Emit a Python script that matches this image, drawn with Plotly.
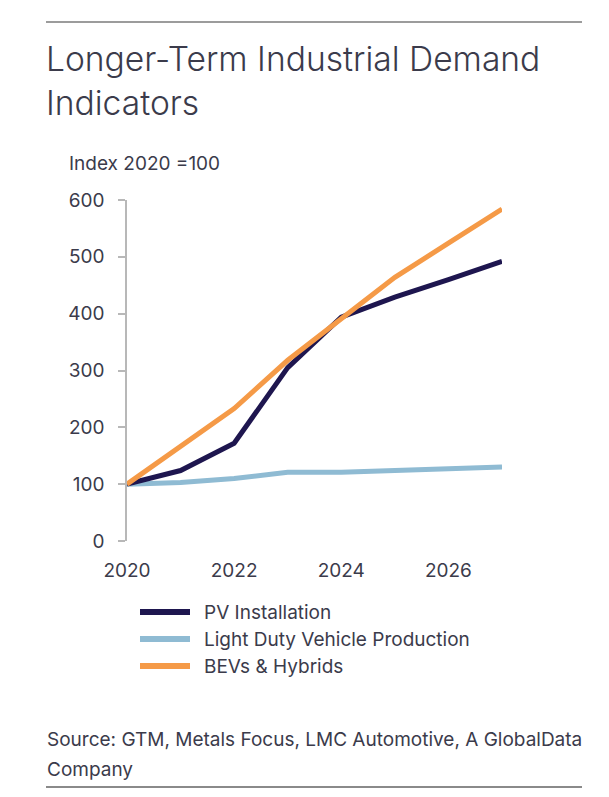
import plotly.graph_objects as go

# chart values
years = [2020, 2021, 2022, 2023, 2024, 2025, 2026, 2027]
pv_install = [100, 124, 172, 305, 394, 429, 460, 492]
ldv_production = [100, 103, 110, 121, 121, 125, 127, 130]
bev_hybrids = [100, 167, 233, 318, 390, 464, 524, 584]
y_ticks = [0, 100, 200, 300, 400, 500, 600]
x_ticks = [2020, 2022, 2024, 2026]

# the page body adds an 8px margin, so the figure is drawn a bit smaller
OFF = 8
W, H = 609 - OFF, 797 - OFF
L, R, T, B = 127, 502, 200, 541  # plot area in page pixels

def px_x(p):
    return (p - L) / (R - L)

def px_y(p):
    return (B - p) / (B - T)

text_col = "#3b3b4b"
font = "Inter"
fs = 19

fig = go.Figure()
series = [
    ("PV Installation", pv_install, "#1e164f"),
    ("Light Duty Vehicle Production", ldv_production, "#8fbbd3"),
    ("BEVs & Hybrids", bev_hybrids, "#f59a47"),
]
# light blue first so the others sit on top
for name, vals, col in [series[1], series[0], series[2]]:
    fig.add_trace(go.Scatter(
        x=years, y=vals, name=name, mode="lines",
        line=dict(color=col, width=5),
        showlegend=False,
    ))

fig.update_layout(
    width=W, height=H,
    margin=dict(l=L - OFF, r=W - (R - OFF), t=T - OFF, b=H - (B - OFF)),
    paper_bgcolor="white", plot_bgcolor="white",
    font=dict(family=font, color=text_col, size=fs),
    title=dict(
        text="Longer-Term Industrial Demand<br>Indicators",
        font=dict(family=font, size=33.6, color=text_col, weight=300),
        xref="container", yref="container",
        x=(46 - OFF) / W, xanchor="left",
        y=1 - 63 / H, yanchor="top",
    ),
    xaxis=dict(
        range=[2020, 2027], tickvals=x_ticks,
        showgrid=False, zeroline=False, showline=False,
        ticks="", ticklabelstandoff=16,
        tickfont=dict(size=fs, color=text_col),
    ),
    yaxis=dict(
        range=[0, 600], tickvals=y_ticks,
        showgrid=False, zeroline=False,
        showline=True, linecolor="#b8b8b8", linewidth=1.5,
        ticks="outside", ticklen=7, tickcolor="#b8b8b8", tickwidth=1.5,
        ticklabelstandoff=10,
        tickfont=dict(size=fs, color=text_col),
    ),
)

# hand-drawn legend: longer samples than plotly's own legend gives
for i, (name, vals, col) in enumerate(series):
    yy = px_y(612 + 27 * i)
    fig.add_shape(type="line", xref="paper", yref="paper",
                  x0=px_x(140), x1=px_x(190), y0=yy, y1=yy,
                  line=dict(color=col, width=6))
    fig.add_annotation(
        text=name, xref="paper", yref="paper",
        x=px_x(202), y=yy, xanchor="left", yanchor="middle",
        showarrow=False, font=dict(size=fs, color=text_col),
    )

fig.add_annotation(
    text="Index 2020 =100", xref="paper", yref="paper",
    x=px_x(67), y=px_y(163), xanchor="left", yanchor="middle",
    showarrow=False, font=dict(size=fs, color=text_col),
)
fig.add_annotation(
    text="Source: GTM, Metals Focus, LMC Automotive, A GlobalData",
    xref="paper", yref="paper",
    x=px_x(45), y=px_y(739), xanchor="left", yanchor="middle",
    showarrow=False, font=dict(size=fs, color=text_col),
)
fig.add_annotation(
    text="Company",
    xref="paper", yref="paper",
    x=px_x(45), y=px_y(769), xanchor="left", yanchor="middle",
    showarrow=False, font=dict(size=fs, color=text_col),
)

# rules above and below the chart
fig.add_shape(type="line", xref="paper", yref="paper",
              x0=px_x(46), x1=px_x(582), y0=px_y(22), y1=px_y(22),
              line=dict(color="#3a3a3a", width=1.2))
fig.add_shape(type="line", xref="paper", yref="paper",
              x0=px_x(46), x1=px_x(582), y0=px_y(787), y1=px_y(787),
              line=dict(color="#8a8a8a", width=2))

fig.write_html("out.html")
